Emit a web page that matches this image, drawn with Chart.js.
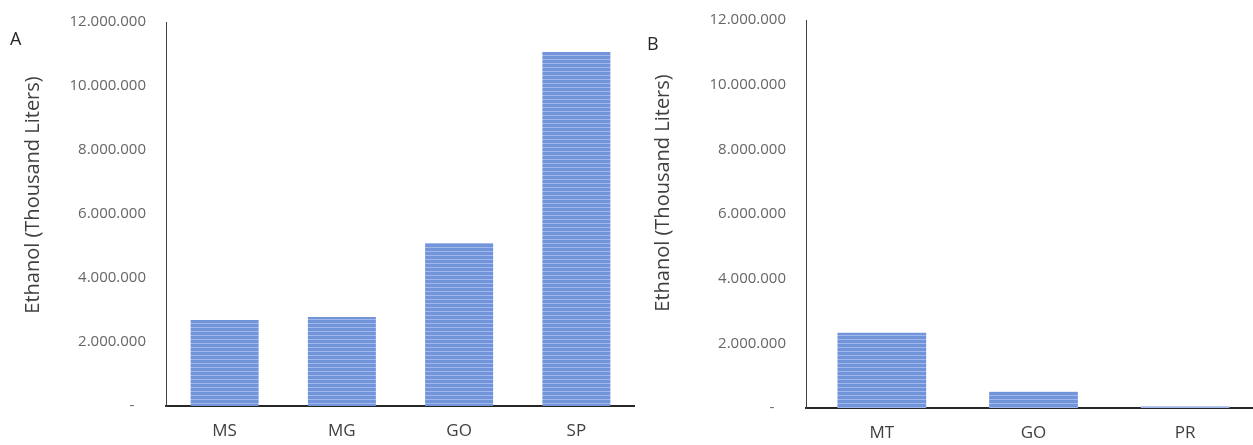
<!DOCTYPE html>
<html>
<head>
<meta charset="utf-8">
<script src="https://cdn.jsdelivr.net/npm/chart.js@4"></script>
<style>
  html, body { margin: 0; padding: 0; background: #fff; overflow: hidden; }
  #wrapA { position: absolute; left: 0; top: 0; width: 635px; height: 445px; }
  #wrapB { position: absolute; left: 640px; top: 0; width: 621px; height: 445px; }
</style>
</head>
<body>
<div id="wrapA"><canvas id="chartA"></canvas></div>
<div id="wrapB"><canvas id="chartB"></canvas></div>
<script>
// states, ethanol in thousand liters
const statesA = ['MS', 'MG', 'GO', 'SP'];
const ethanolA = [2690000, 2780000, 5090000, 11060000];

const statesB = ['MT', 'GO', 'PR'];
const ethanolB = [2330000, 500000, 50000];

const yTicks = [0, 2000000, 4000000, 6000000, 8000000, 10000000, 12000000];
const axisTitle = 'Ethanol (Thousand Liters)';

// striped fill like the excel bars
function stripes() {
    const c = document.createElement('canvas');
    c.width = 4; c.height = 4;
    const g = c.getContext('2d');
    g.fillStyle = '#7194da';
    g.fillRect(0, 0, 4, 4);
    g.fillStyle = '#a2b8ea';
    g.fillRect(0, 3, 4, 1);
    return g.createPattern(c, 'repeat');
}

function fmt(v) {
    if (v === 0) return '-   ';
    return v.toString().replace(/\B(?=(\d{3})+(?!\d))/g, '.');
}

// panel letter and the y title (drawn by hand so it sits a bit higher, like excel)
const panelText = {
    id: 'panelText',
    afterDraw(chart, args, opts) {
        const ctx = chart.ctx;
        ctx.save();
        ctx.fillStyle = '#262626';
        ctx.textBaseline = 'middle';
        ctx.font = '18px "Open Sans"';
        ctx.fillText(opts.letter, opts.lx, opts.ly);
        ctx.fillStyle = '#404040';
        ctx.font = '20px "Open Sans"';
        ctx.textAlign = 'center';
        ctx.translate(opts.tx, opts.ty);
        ctx.rotate(-Math.PI / 2);
        ctx.fillText(axisTitle, 0, 0);
        ctx.restore();
    }
};

function makeChart(id, labels, data, pos, barPct, padTop, xH) {
    const ctx = document.getElementById(id).getContext('2d');
    return new Chart(ctx, {
        type: 'bar',
        data: {
            labels,
            datasets: [{
                data,
                backgroundColor: stripes(),
                borderWidth: 0,
                barPercentage: barPct,
                categoryPercentage: 1
            }]
        },
        options: {
            responsive: true,
            maintainAspectRatio: false,
            animation: false,
            layout: { padding: { top: padTop, right: 0, bottom: 0, left: 0 } },
            plugins: {
                legend: { display: false },
                tooltip: { enabled: false },
                panelText: pos
            },
            scales: {
                x: {
                    grid: { display: false, drawTicks: false },
                    border: { color: '#262626', width: 2 },
                    ticks: {
                        color: '#404040',
                        font: { family: 'Open Sans', size: 17 },
                        padding: 15
                    },
                    afterFit: s => { s.height = xH; }
                },
                y: {
                    min: 0,
                    max: 12000000,
                    afterBuildTicks: s => { s.ticks = yTicks.map(v => ({ value: v })); },
                    grid: { display: false, drawTicks: false },
                    border: { color: '#404040', width: 1 },
                    ticks: {
                        color: '#666666',
                        font: { family: 'Open Sans', size: 15 },
                        padding: 20,
                        callback: v => fmt(v)
                    },
                    afterFit: s => {
                        s.width = 166;
                        s.paddingTop = 0;
                        s.paddingBottom = 0;
                    }
                }
            }
        },
        plugins: [panelText]
    });
}

makeChart('chartA', statesA, ethanolA, { letter: 'A', lx: 10, ly: 40, tx: 33, ty: 195 }, 0.58, 22, 39);
makeChart('chartB', statesB, ethanolB, { letter: 'B', lx: 7, ly: 45, tx: 23, ty: 193 }, 0.585, 20, 37);
</script>
</body>
</html>
